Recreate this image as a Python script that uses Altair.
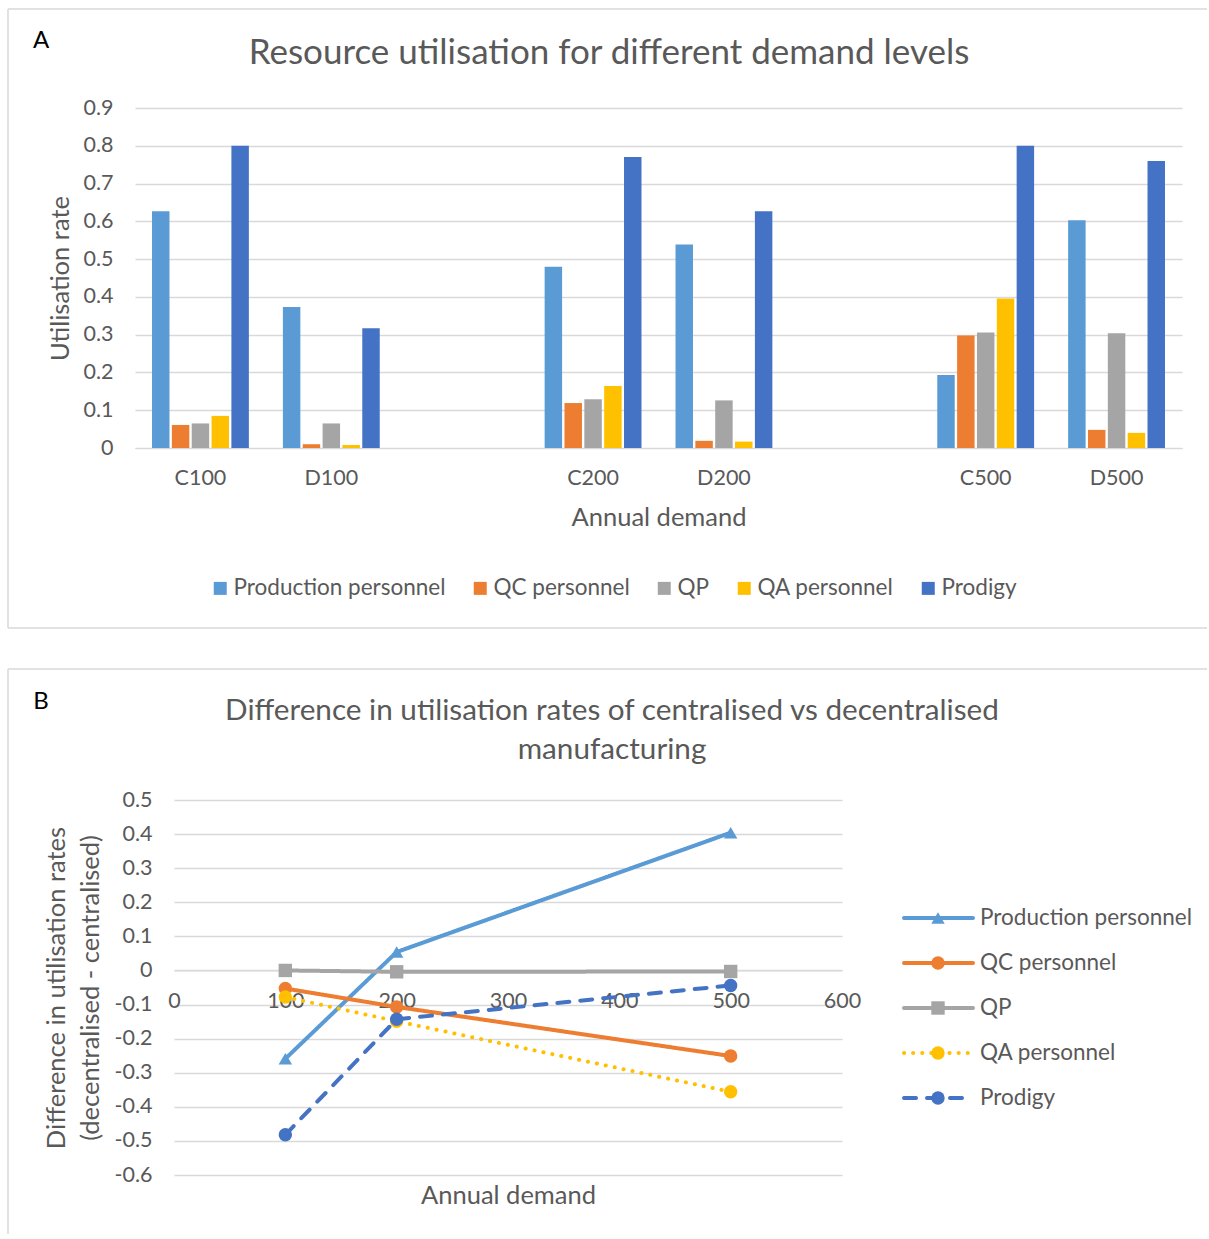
import altair as alt
import pandas as pd

# ---- Panel A: utilisation per demand scenario ----
slots = ["C100", "D100", " ", "C200", "D200", "  ", "C500", "D500"]
scenarios = ["C100", "D100", "C200", "D200", "C500", "D500"]
resources = ["Production personnel", "QC personnel", "QP", "QA personnel", "Prodigy"]
colors = ["#5B9BD5", "#ED7D31", "#A5A5A5", "#FFC000", "#4472C4"]

production = [0.627, 0.373, 0.480, 0.539, 0.193, 0.603]
qc = [0.061, 0.010, 0.119, 0.019, 0.298, 0.048]
qp = [0.065, 0.065, 0.129, 0.126, 0.306, 0.304]
qa = [0.085, 0.008, 0.164, 0.017, 0.396, 0.040]
prodigy = [0.800, 0.317, 0.770, 0.627, 0.800, 0.760]

# ---- Panel B: decentralised minus centralised ----
demand = [100, 200, 500]
diff_production = [-0.259, 0.054, 0.404]
diff_qc = [-0.053, -0.107, -0.251]
diff_qp = [0.0, -0.004, -0.003]
diff_qa = [-0.078, -0.149, -0.356]
diff_prodigy = [-0.482, -0.143, -0.044]

shapes = ["triangle-up", "circle", "square", "circle", "circle"]
dashes = [[1, 0], [1, 0], [1, 0], [0.1, 9], [12, 11]]

TEXT = "#595959"
BORDER = "#d9d9d9"
FONT = "Lato"
TICK_SIZE = 21.5
AXIS_TITLE_SIZE = 25.5
LEGEND_SIZE = 22.5

bar_rows = []
for res, vals in zip(resources, [production, qc, qp, qa, prodigy]):
    for sc, v in zip(scenarios, vals):
        bar_rows.append({"scenario": sc, "resource": res, "rate": v})
bars_df = pd.DataFrame(bar_rows)

diff_rows = []
for res, vals in zip(resources, [diff_production, diff_qc, diff_qp, diff_qa, diff_prodigy]):
    for d, v in zip(demand, vals):
        diff_rows.append({"demand": d, "resource": res, "diff": v})
diff_df = pd.DataFrame(diff_rows)

one = pd.DataFrame({"k": [0]})


def frame_rule(x, x2=None, y=None, y2=None):
    enc = {"x": alt.value(x), "y": alt.value(y)}
    if x2 is not None:
        enc["x2"] = alt.value(x2)
    if y2 is not None:
        enc["y2"] = alt.value(y2)
    return alt.Chart(one).mark_rule(color=BORDER, strokeWidth=1.5).encode(**enc)


def label(text, x, y, size, color=TEXT):
    return alt.Chart(one).mark_text(
        align="center", baseline="middle", fontSize=size, color=color, font=FONT
    ).encode(x=alt.value(x), y=alt.value(y), text=alt.value(text))


# ---------------- Panel A ----------------
bar_color = alt.Color(
    "resource:N",
    scale=alt.Scale(domain=resources, range=colors),
    legend=alt.Legend(
        orient="none", legendX=74, legendY=469, direction="horizontal",
        title=None, symbolType="square", symbolSize=169, symbolStrokeWidth=0,
        labelFontSize=LEGEND_SIZE, labelColor=TEXT, labelFont=FONT, labelLimit=0,
        columnPadding=23, labelOffset=2,
    ),
)

bars = alt.Chart(bars_df).mark_bar().encode(
    x=alt.X(
        "scenario:N",
        scale=alt.Scale(domain=slots, paddingInner=0.26, paddingOuter=0.13),
        axis=alt.Axis(title="Annual demand", labelAngle=0, ticks=False,
                      labelPadding=19, titlePadding=17, domainColor=BORDER),
    ),
    xOffset=alt.XOffset("resource:N", scale=alt.Scale(domain=resources, paddingInner=0.12)),
    y=alt.Y(
        "rate:Q",
        scale=alt.Scale(domain=[0, 0.9], nice=False),
        axis=alt.Axis(values=[0, 0.1, 0.2, 0.3, 0.4, 0.5, 0.6, 0.7, 0.8, 0.9],
                      format=".1~f", title="Utilisation rate", domain=False,
                      ticks=False, labelPadding=22, titlePadding=9),
    ),
    color=bar_color,
)

panel_a = alt.layer(
    bars,
    frame_rule(-127, x2=1072, y=-99),
    frame_rule(-127, x2=1072, y=520),
    frame_rule(-127, y=-99, y2=520),
    label("Resource utilisation for different demand levels", 474, -55, 35),
    label("A", -94, -67, 24, color="#000000"),
).properties(width=1047, height=340)

# ---------------- Panel B ----------------
# The plot area of this panel starts 39px right of the shared column origin.
line_color = alt.Color("resource:N", scale=alt.Scale(domain=resources, range=colors), legend=None)
line_dash = alt.StrokeDash("resource:N", scale=alt.Scale(domain=resources, range=dashes), legend=None)
line_shape = alt.Shape("resource:N", scale=alt.Scale(domain=resources, range=shapes), legend=None)

bx = alt.X(
    "demand:Q",
    scale=alt.Scale(domain=[0, 600], nice=False, range=[39, 707]),
    axis=alt.Axis(values=[0, 100, 200, 300, 400, 500, 600], grid=False, ticks=False,
                  offset=-204.5, labelFlush=False, labelPadding=20, domainColor=BORDER,
                  title="Annual demand", titleX=373, titleY=225, titleBaseline="middle"),
)
by = alt.Y(
    "diff:Q",
    scale=alt.Scale(domain=[-0.6, 0.5], nice=False),
    axis=alt.Axis(values=[0.5, 0.4, 0.3, 0.2, 0.1, 0, -0.1, -0.2, -0.3, -0.4, -0.5, -0.6],
                  labelExpr="replace(format(datum.value, '.1~f'), '\u2212', '-')",
                  title=["Difference in utilisation rates", "(decentralised - centralised)"],
                  titleLineHeight=34, domain=False, ticks=False, offset=-39,
                  labelPadding=22, titlePadding=10),
)

series_layers = []
for res in resources:
    sub = alt.Chart(diff_df).transform_filter(alt.datum.resource == res)
    series_layers.append(
        sub.mark_line(strokeWidth=4, strokeCap="round").encode(
            x=bx, y=by, color=line_color, strokeDash=line_dash)
    )
    series_layers.append(
        sub.mark_point(filled=True, size=180, opacity=1).encode(
            x=bx, y=by, color=line_color, shape=line_shape)
    )
plot_b = alt.layer(*series_layers)

legend_df = pd.DataFrame({"resource": resources})
ly = alt.Y("resource:N",
           scale=alt.Scale(type="point", domain=resources, range=[118, 298], padding=0),
           axis=None)
leg_line = alt.Chart(legend_df).mark_rule(strokeWidth=4, strokeCap="round").encode(
    x=alt.value(769), x2=alt.value(838), y=ly, color=line_color, strokeDash=line_dash)
leg_pt = alt.Chart(legend_df).mark_point(filled=True, size=180, opacity=1).encode(
    x=alt.value(803), y=ly, color=line_color, shape=line_shape)
leg_txt = alt.Chart(legend_df).mark_text(
    align="left", baseline="middle", fontSize=LEGEND_SIZE, color=TEXT, font=FONT
).encode(x=alt.value(845), y=ly, text="resource:N")
legend_b = alt.layer(leg_line, leg_pt, leg_txt)

panel_b = alt.layer(
    plot_b,
    legend_b,
    frame_rule(-127, x2=1072, y=-131),
    frame_rule(-127, y=-131, y2=434),
    label("Difference in utilisation rates of centralised vs decentralised", 477, -89, 29.7),
    label("manufacturing", 477, -50, 29.7),
    label("B", -94, -98, 24, color="#000000"),
).resolve_scale(y="independent").properties(width=707, height=375)

chart = (
    alt.vconcat(panel_a, panel_b, spacing=39)
    .resolve_scale(color="independent", strokeDash="independent", shape="independent")
    .properties(padding={"left": 7, "top": 8, "right": 0, "bottom": 0})
    .configure(font=FONT)
    .configure_view(stroke=None)
    .configure_axis(
        labelFont=FONT, titleFont=FONT, labelFontSize=TICK_SIZE, titleFontSize=AXIS_TITLE_SIZE,
        labelColor=TEXT, titleColor=TEXT, titleFontWeight="normal",
        gridColor=BORDER, gridWidth=1.3,
    )
)

chart.save("out.html", embed_options={"renderer": "svg", "actions": False})
